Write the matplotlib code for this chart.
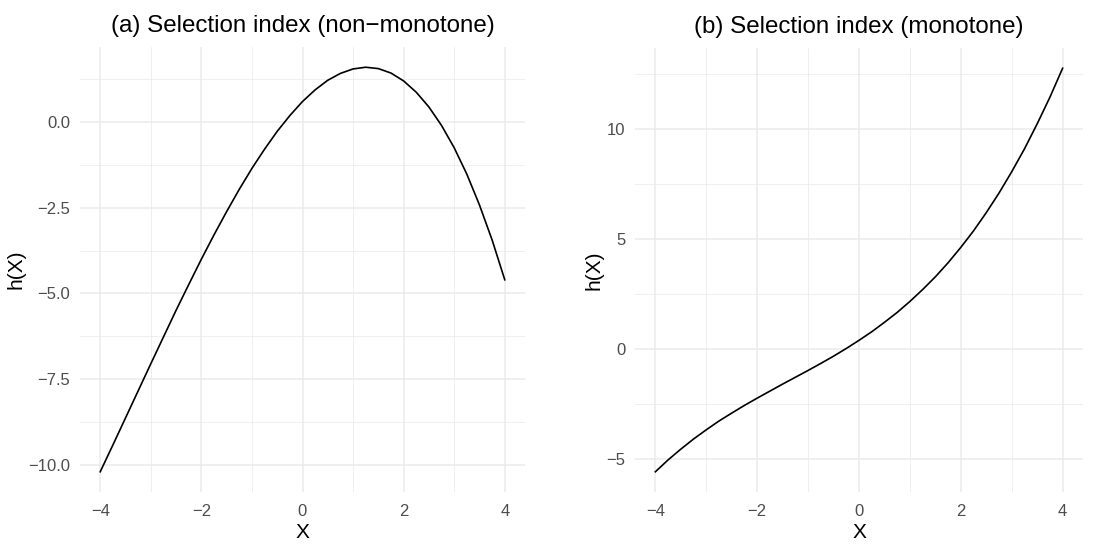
import numpy as np
import matplotlib
matplotlib.use("Agg")
from matplotlib import pyplot as plt
from matplotlib.ticker import MultipleLocator

plt.rcParams['font.family'] = ['Liberation Sans', 'DejaVu Sans']

# values
x_vals = [-4.0, -3.75, -3.5, -3.25, -3.0, -2.75, -2.5, -2.25, -2.0, -1.75, -1.5,
          -1.25, -1.0, -0.75, -0.5, -0.25, 0.0, 0.25, 0.5, 0.75, 1.0, 1.25,
          1.5, 1.75, 2.0, 2.25, 2.5, 2.75, 3.0, 3.25, 3.5, 3.75, 4.0]
h_nonmono = [-10.2, -9.42, -8.63, -7.84, -7.05, -6.27, -5.49, -4.74, -4.0, -3.29,
             -2.61, -1.96, -1.35, -0.79, -0.27, 0.19, 0.6, 0.94, 1.22, 1.42, 1.55,
             1.6, 1.56, 1.43, 1.2, 0.87, 0.44, -0.1, -0.75, -1.52, -2.42, -3.44, -4.6]
h_mono = [-5.58, -5.04, -4.55, -4.09, -3.67, -3.27, -2.91, -2.56, -2.23, -1.91,
          -1.59, -1.28, -0.97, -0.65, -0.32, 0.03, 0.4, 0.79, 1.22, 1.67, 2.17,
          2.71, 3.29, 3.93, 4.63, 5.38, 6.21, 7.1, 8.07, 9.11, 10.25, 11.46, 12.78]

titles = ["(a) Selection index (non\u2212monotone)", "(b) Selection index (monotone)"]


def style(ax, ymajor):
    for s in ax.spines.values():
        s.set_visible(False)
    ax.xaxis.set_major_locator(MultipleLocator(2))
    ax.xaxis.set_minor_locator(MultipleLocator(1))
    ax.yaxis.set_major_locator(MultipleLocator(ymajor))
    ax.yaxis.set_minor_locator(MultipleLocator(ymajor / 2))
    ax.grid(which="major", color="#EBEBEB", linewidth=1.1)
    ax.grid(which="minor", color="#EBEBEB", linewidth=0.55)
    ax.set_axisbelow(True)
    ax.tick_params(which="both", length=0, labelsize=12, labelcolor="#4D4D4D")
    ax.tick_params(axis="x", pad=8.5)
    ax.tick_params(axis="y", pad=7)
    ax.set_xlabel("X", fontsize=15, labelpad=3)
    ax.set_ylabel("h(X)", fontsize=15, labelpad=2)


def main():
    fig = plt.figure(figsize=(11.11, 5.44), dpi=100)
    ax1 = fig.add_axes([80 / 1111, 1 - 492 / 544, 445 / 1111, 445 / 544])
    ax2 = fig.add_axes([635 / 1111, 1 - 492 / 544, 448 / 1111, 444 / 544])

    ax1.plot(x_vals, h_nonmono, color="black", linewidth=1.2)
    ax1.set_xlim(-4.4, 4.4)
    ax1.set_ylim(-10.79, 2.19)
    style(ax1, 2.5)
    ax1.yaxis.set_major_formatter(lambda v, p: f"{v:.1f}".replace("-", "\u2212"))

    ax2.plot(x_vals, h_mono, color="black", linewidth=1.2)
    ax2.set_xlim(-4.4, 4.4)
    ax2.set_ylim(-6.5, 13.7)
    style(ax2, 5)

    for ax, t in zip((ax1, ax2), titles):
        ax.set_title(t, fontsize=17.4, pad=11)

    fig.savefig("out.png", dpi=100)


if __name__ == "__main__":
    main()
